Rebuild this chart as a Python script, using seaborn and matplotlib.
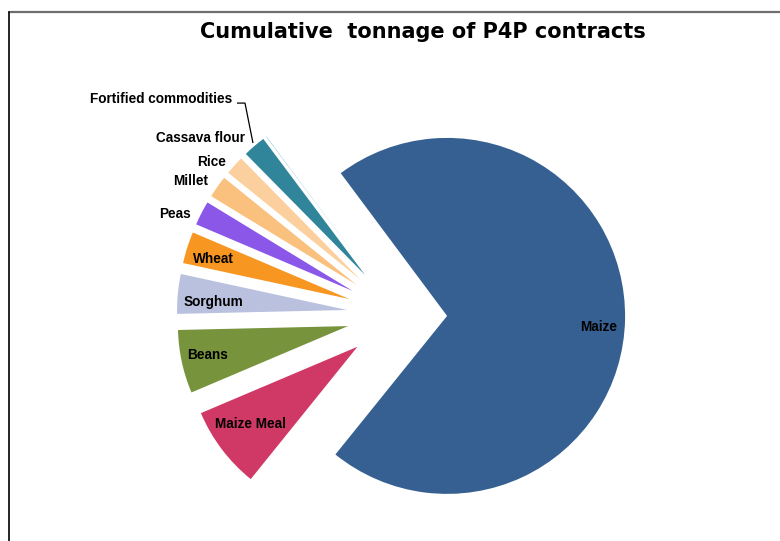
import numpy as np
import matplotlib
matplotlib.use("Agg")
import matplotlib.pyplot as plt
import seaborn as sns
from matplotlib.lines import Line2D

sns.set_theme(style="white")
plt.rcParams["font.family"] = ["Liberation Sans", "DejaVu Sans"]
plt.rcParams["text.color"] = "black"

# Share of cumulative P4P contract tonnage by commodity (%)
commodities = ["Maize", "Maize Meal", "Beans", "Sorghum", "Wheat", "Peas",
               "Millet", "Rice", "Cassava flour", "Fortified commodities"]
share_pct = [70.8, 7.8, 6.0, 3.75, 3.0, 2.3, 2.1, 1.8, 2.15, 0.03]
colors = ["#366092", "#D03865", "#77933C", "#B9C1DE", "#F79621", "#8B57E8",
          "#FAC07D", "#FCD09E", "#31859B", "#4BACC6"]

W, H, DPI = 780, 541, 100
fig = plt.figure(figsize=(W / DPI, H / DPI), dpi=DPI)
ax = fig.add_axes([0, 0, 1, 1])

# pixel scale of a unit radius and pie centre position (pixels)
scale = 170.0
cx, cy = 399.5, 315.0

explode = [0.28] + [0.31] * (len(share_pct) - 1)
wedges, _ = ax.pie(share_pct, colors=colors, explode=explode, startangle=126.7,
                   counterclock=False, radius=1.0, labels=None,
                   wedgeprops=dict(linewidth=0), frame=False)
ax.set_xlim(-cx / scale, (W - cx) / scale)
ax.set_ylim(-(H - cy) / scale, cy / scale)
ax.set_aspect("auto")
ax.axis("off")
# the largest slice is drawn slightly larger
wedges[0].set_radius(1.047)

# label placement: (distance from wedge apex, angle offset in degrees, alignment)
label_place = {
    "Maize": (0.89, -2.0, "center"),
    "Maize Meal": (0.77, -2.0, "center"),
    "Beans": (0.84, -1.5, "center"),
    "Sorghum": (0.79, 1.0, "center"),
    "Wheat": (0.84, 0.2, "center"),
    "Peas": (1.06, 1.0, "right"),
    "Millet": (1.07, -0.5, "right"),
    "Rice": (1.06, 0.3, "right"),
    "Cassava flour": (1.085, 0.0, "right"),
}
dy = -0.015  # baseline tweak so caps sit centred on the anchor
lab_font = dict(fontsize=9.8, fontweight="bold", color="black", va="center")
for w, name in zip(wedges, commodities):
    mid = np.deg2rad(0.5 * (w.theta1 + w.theta2))
    x0, y0 = w.center
    if name in label_place:
        d, off, ha = label_place[name]
        a = mid + np.deg2rad(off)
        ax.text(x0 + d * np.cos(a), y0 + d * np.sin(a) + dy, name, ha=ha,
                **lab_font)
    else:
        # tiny slice: label with a bent leader line
        tx = x0 + np.cos(mid) - 0.078
        ty = y0 + np.sin(mid) - 0.038
        ax.plot([tx - 0.094, tx - 0.047, tx], [ty + 0.235, ty + 0.235, ty],
                color="black", lw=0.9, solid_capstyle="butt")
        ax.text(tx - 0.1235, ty + 0.2765 + dy, name, ha="right", **lab_font)

fig.text(423 / W, 1 - 32.5 / H, "Cumulative  tonnage of P4P contracts",
         ha="center", va="center", fontsize=15.0, fontweight="bold",
         color="black", family=["DejaVu Sans"])

# chart area border (top and left edges)
fig.add_artist(Line2D([9 / W, 1.0], [1 - 12 / H, 1 - 12 / H],
                      transform=fig.transFigure, color="#6E6E6E", lw=1.6))
fig.add_artist(Line2D([9 / W, 9 / W], [0, 1 - 12 / H],
                      transform=fig.transFigure, color="black", lw=1.2))

fig.savefig("out.png", dpi=DPI, facecolor="white")
